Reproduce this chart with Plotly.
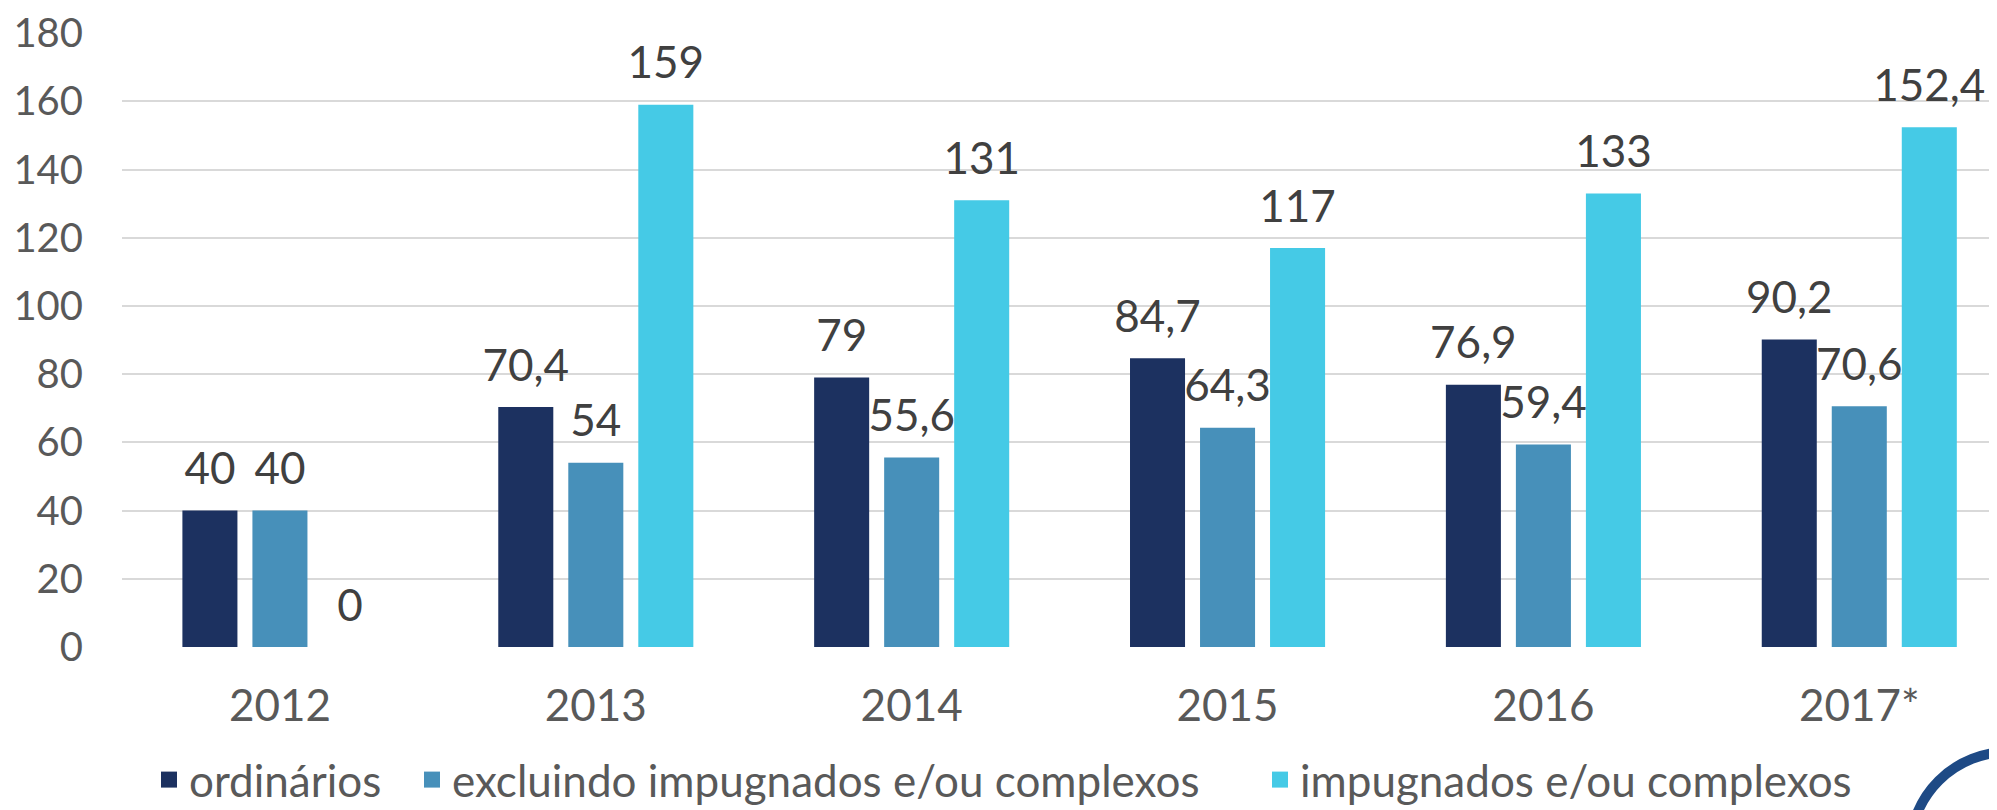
import plotly.graph_objects as go

years = ["2012", "2013", "2014", "2015", "2016", "2017*"]
ordinarios = [40, 70.4, 79, 84.7, 76.9, 90.2]
excluindo = [40, 54, 55.6, 64.3, 59.4, 70.6]
impugnados = [0, 159, 131, 117, 133, 152.4]
y_ticks = [0, 20, 40, 60, 80, 100, 120, 140, 160, 180]

series_names = ["ordinários", "excluindo impugnados e/ou complexos", "impugnados e/ou complexos"]
series_values = [ordinarios, excluindo, impugnados]
colors = ["#1C3160", "#4790BA", "#45CAE6"]

# the page body has an 8px margin, so the figure is drawn 8px in from the top-left
W, H = 1989, 802
ML, MR, MT, MB = 114, 0, 25, 163
BARGAP = 0.335
pw, ph = W - ML - MR, H - MT - MB

def px_x(p):
    return (p - ML) / pw
def px_y(p):
    return (H - MB - p) / ph

def fmt(v):
    return ("%g" % v).replace(".", ",")

FONT = "Lato"
legend_names = ["legend", "legend2", "legend3"]
legend_left = [141, 404, 1252]

fig = go.Figure()
for i, (name, vals, col) in enumerate(zip(series_names, series_values, colors)):
    fig.add_trace(go.Bar(
        x=years, y=vals, name=name, offsetgroup=str(i),
        marker=dict(color=col, line=dict(width=0)),
        showlegend=False,
    ))
for i, (name, vals, col) in enumerate(zip(series_names, series_values, colors)):
    fig.add_trace(go.Scatter(
        x=years, y=vals, name=name, offsetgroup=str(i),
        mode="markers+text",
        text=[fmt(v) for v in vals],
        textposition="top center",
        textfont=dict(family=FONT, size=44, color="#404040"),
        marker=dict(symbol="square", size=23, color=col, opacity=0),
        cliponaxis=False,
        hoverinfo="skip",
        showlegend=False,
    ))
    fig.add_trace(go.Scatter(
        x=[None], y=[None], mode="markers", name=name,
        marker=dict(symbol="square", size=23, color=col),
        showlegend=True, legend=legend_names[i],
    ))

# decorative partial logo arc (bottom-right corner)
cx, cy, r = 2000, 842, 98
fig.add_shape(type="circle", xref="paper", yref="paper",
              x0=px_x(cx - r), x1=px_x(cx + r), y0=px_y(cy + r), y1=px_y(cy - r),
              line=dict(color="#1E4A85", width=10), fillcolor="rgba(0,0,0,0)", layer="above")

legend_y = px_y(772)
leg_common = dict(orientation="h", xanchor="left", yanchor="middle", y=legend_y,
                  font=dict(family=FONT, size=44, color="#595959"),
                  itemsizing="trace", bgcolor="rgba(0,0,0,0)")

fig.update_layout(
    width=W, height=H,
    margin=dict(l=ML, r=MR, t=MT, b=MB, autoexpand=False),
    plot_bgcolor="white", paper_bgcolor="white",
    barmode="group", bargap=BARGAP, bargroupgap=0.214,
    scattermode="group", scattergap=BARGAP,
    font=dict(family=FONT, color="#595959", size=44),
    legend=dict(x=px_x(legend_left[0]), **leg_common),
    legend2=dict(x=px_x(legend_left[1]), **leg_common),
    legend3=dict(x=px_x(legend_left[2]), **leg_common),
    xaxis=dict(range=[-0.5, 5.436], showgrid=False, showline=False, ticks="",
               automargin=False,
               tickfont=dict(family=FONT, size=44, color="#595959"),
               ticklabelstandoff=29),
    yaxis=dict(range=[0, 180.05], tickmode="array", tickvals=y_ticks,
               ticktext=[str(t) for t in y_ticks],
               showgrid=True, gridcolor="#D9D9D9", gridwidth=1.5,
               zeroline=False, showline=False, ticks="", automargin=False,
               tickfont=dict(family=FONT, size=40, color="#595959"),
               ticklabelstandoff=38),
)

fig.write_html("out.html")
